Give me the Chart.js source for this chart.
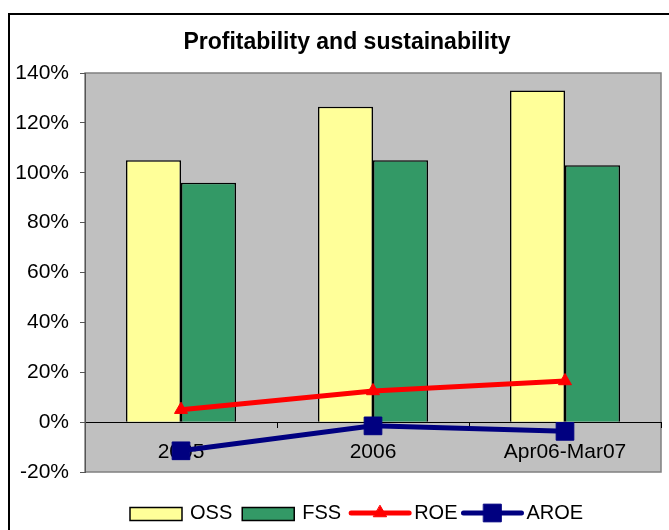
<!DOCTYPE html>
<html><head><meta charset="utf-8">
<script src="https://cdn.jsdelivr.net/npm/chart.js@4/dist/chart.umd.min.js"></script>
<style>html,body{margin:0;padding:0;background:#fff;overflow:hidden;width:669px;height:530px}#wrap{position:absolute;left:0;top:0;width:669px;height:530px}</style>
</head><body><div id="wrap"><canvas id="c" width="669" height="530"></canvas></div>
<script>
const categories = ['2005', '2006', 'Apr06-Mar07'];
const ossValues = [105, 126.5, 133];
const fssValues = [96, 105, 103];
const roeValues = [5, 12.5, 16.5];
const aroeValues = [-11.5, -1.5, -3.7];
const yTicks = [-20, 0, 20, 40, 60, 80, 100, 120, 140];
const seriesNames = ['OSS', 'FSS', 'ROE', 'AROE'];

const FONT = "'Liberation Sans', Arial, sans-serif";
Chart.defaults.font.family = FONT;
Chart.defaults.color = '#000';

const framePlugin = {
  id: 'frame',
  beforeDraw(chart) {
    const {ctx, chartArea: a} = chart;
    ctx.save();
    ctx.fillStyle = '#fff';
    ctx.fillRect(0, 0, chart.width, chart.height);
    ctx.strokeStyle = '#000';
    ctx.lineWidth = 2;
    ctx.beginPath();
    ctx.moveTo(9, chart.height + 5);
    ctx.lineTo(9, 14);
    ctx.lineTo(chart.width + 5, 14);
    ctx.stroke();
    ctx.fillStyle = '#C0C0C0';
    ctx.fillRect(a.left, a.top, a.width, a.height);
    ctx.strokeStyle = '#808080';
    ctx.lineWidth = 1.5;
    ctx.strokeRect(a.left, a.top, a.width, a.height);
    ctx.restore();
  }
};

function drawMarker(ctx, style, r, cx, cy, color) {
  ctx.fillStyle = color; ctx.strokeStyle = color; ctx.lineWidth = 1;
  ctx.beginPath();
  if (style === 'triangle') {
    ctx.moveTo(cx, cy - r);
    ctx.lineTo(cx + 0.866 * r, cy + 0.5 * r);
    ctx.lineTo(cx - 0.866 * r, cy + 0.5 * r);
    ctx.closePath();
  } else {
    const s = Math.SQRT1_2 * r;
    ctx.rect(cx - s, cy - s, 2 * s, 2 * s);
  }
  ctx.fill(); ctx.stroke();
}

const legendPlugin = {
  id: 'customLegend',
  afterDraw(chart) {
    const {ctx, chartArea: a} = chart;
    ctx.save();
    ctx.font = '20px ' + FONT;
    ctx.textBaseline = 'middle';
    ctx.textAlign = 'left';
    const cy = 513;
    let x = a.left + 45;
    chart.data.datasets.forEach((ds) => {
      const w = ctx.measureText(ds.label).width;
      if (ds.type === 'bar') {
        ctx.fillStyle = ds.backgroundColor;
        ctx.fillRect(x, cy - 5.5, 52, 13);
        ctx.strokeStyle = '#000'; ctx.lineWidth = 1.5;
        ctx.strokeRect(x, cy - 5.5, 52, 13);
        x += 60;
        ctx.fillStyle = '#000';
        ctx.fillText(ds.label, x, cy);
        x += w + 10;
      } else {
        ctx.strokeStyle = ds.borderColor; ctx.lineWidth = ds.borderWidth;
        ctx.lineCap = 'round';
        ctx.beginPath(); ctx.moveTo(x, cy); ctx.lineTo(x + 58, cy); ctx.stroke();
        drawMarker(ctx, ds.pointStyle, ds.pointRadius, x + 29, cy, ds.borderColor);
        x += 63;
        ctx.fillStyle = '#000';
        ctx.fillText(ds.label, x, cy);
        x += w + 6;
      }
    });
    ctx.restore();
  }
};

new Chart(document.getElementById('c'), {
  data: {
    labels: categories,
    datasets: [
      { type: 'bar', label: seriesNames[0], data: ossValues, backgroundColor: '#FFFF99', borderColor: '#000', borderWidth: 1.5, order: 2, categoryPercentage: 0.573, barPercentage: 1.0 },
      { type: 'bar', label: seriesNames[1], data: fssValues, backgroundColor: '#339966', borderColor: '#000', borderWidth: 1.5, order: 2, categoryPercentage: 0.573, barPercentage: 1.0 },
      { type: 'line', label: seriesNames[2], data: roeValues, borderColor: '#FF0000', backgroundColor: '#FF0000', borderWidth: 5, pointStyle: 'triangle', pointRadius: 7.5, pointBackgroundColor: '#FF0000', pointBorderColor: '#FF0000', pointBorderWidth: 1, tension: 0, fill: false, order: 1 },
      { type: 'line', label: seriesNames[3], data: aroeValues, borderColor: '#000080', backgroundColor: '#000080', borderWidth: 5, pointStyle: 'rect', pointRadius: 12.5, pointBackgroundColor: '#000080', pointBorderColor: '#000080', pointBorderWidth: 1, tension: 0, fill: false, order: 0 }
    ]
  },
  options: {
    responsive: false,
    animation: false,
    events: [],
    layout: { autoPadding: false, padding: { left: 33, right: 8, top: 0, bottom: 58 } },
    plugins: {
      legend: { display: false },
      tooltip: { enabled: false },
      title: { display: true, text: 'Profitability and sustainability', color: '#000', font: { size: 23, weight: 'bold' }, padding: { top: 29, bottom: 16.4 } }
    },
    scales: {
      x: {
        position: { y: 0 },
        offset: true,
        afterFit: s => { s.paddingLeft = 0; s.paddingRight = 0; },
        grid: { offset: true, drawOnChartArea: false, tickLength: 5, color: '#000' },
        border: { color: '#000', width: 1 },
        ticks: { color: '#000', font: { size: 21 }, padding: 12, maxRotation: 0, autoSkip: false }
      },
      y: {
        min: -20, max: 140,
        afterFit: s => { s.width = 52; },
        afterUpdate: s => { s._computeLabelArea = () => undefined; },
        afterBuildTicks: s => { s.ticks = yTicks.map(v => ({ value: v })); },
        grid: { drawOnChartArea: false, tickLength: 5, color: '#555' },
        border: { color: '#555', width: 1 },
        ticks: { color: '#000', font: { size: 21 }, padding: 11, callback: v => v + '%' }
      }
    }
  },
  plugins: [framePlugin, legendPlugin]
});
</script>
</body></html>
